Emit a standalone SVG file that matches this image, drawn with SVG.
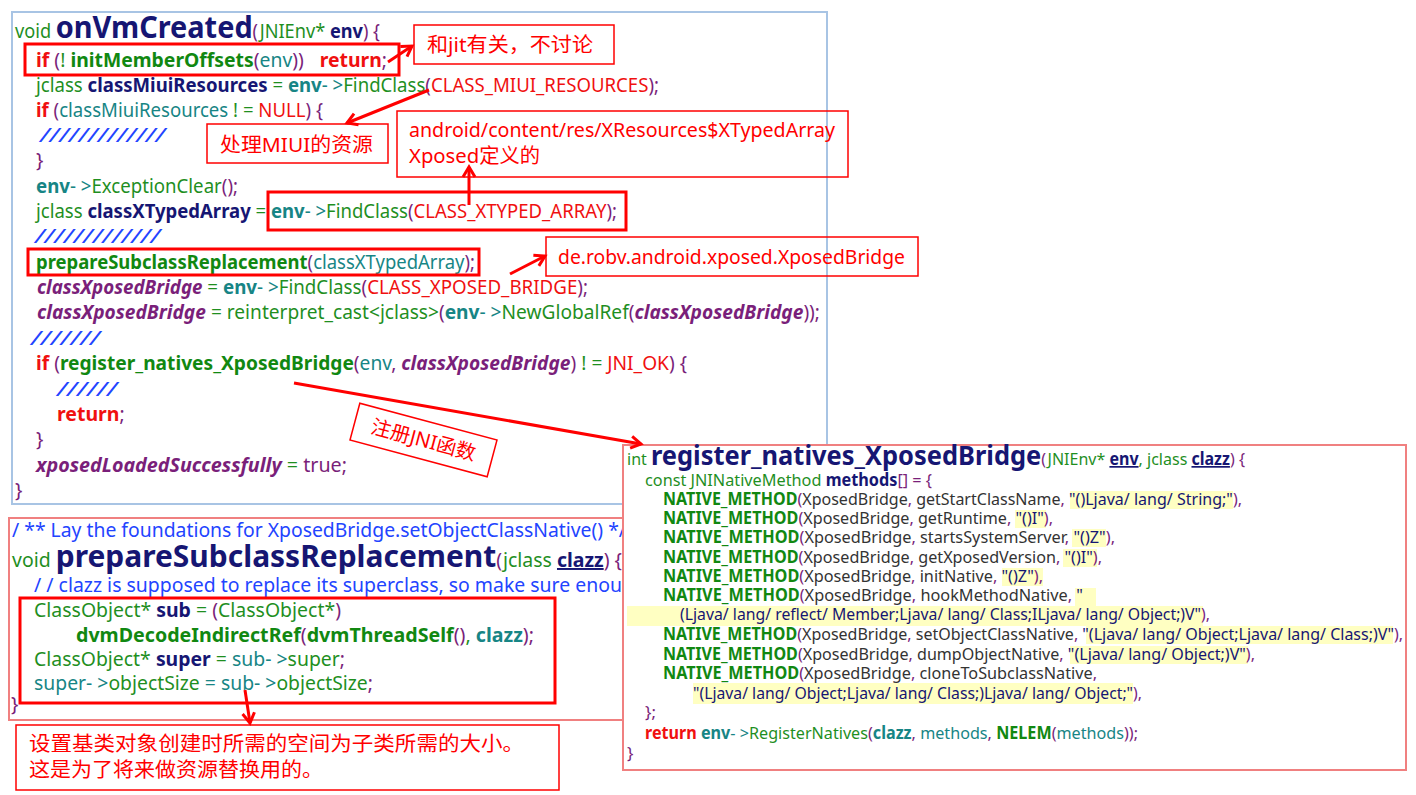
<svg xmlns="http://www.w3.org/2000/svg" width="1416" height="795" viewBox="0 0 1416 795">
<defs>
<style>
.c{font-family:"Noto Sans","Open Sans","DejaVu Sans",sans-serif;font-size:19.5px}
.s{font-family:"Noto Sans","Open Sans","DejaVu Sans",sans-serif;font-size:17px}
.g{fill:#1f8f1f}.gb{fill:#118811;font-weight:bold}
.n{fill:#161673}.nb{fill:#161673;font-weight:bold}
.t{fill:#178585}.tb{fill:#178585;font-weight:bold}
.p{fill:#7a1f7a}.pbi{fill:#7a1f7a;font-weight:bold;font-style:italic}
.r{fill:#f01010}.rb{fill:#f01010;font-weight:bold}
.b{fill:#2244ff;font-style:italic}.bl{fill:#2244ff}
.k{fill:#333333}
.u{text-decoration:underline}
.note{font-family:"Noto Sans","Noto Sans CJK SC",sans-serif;font-size:20px;fill:#ff0000}
.nbox{fill:none;stroke:#ff0000;stroke-width:1.5}
.hbox{fill:none;stroke:#ff0000;stroke-width:3}
.hl{fill:#ffffc2}
.conn{stroke:#ff0000;stroke-width:3;fill:none;marker-end:url(#arr)}
</style>
<marker id="arr" markerUnits="userSpaceOnUse" markerWidth="16" markerHeight="16" viewBox="0 0 16 16" refX="13" refY="8" orient="auto">
<path d="M3,2 L13,8 L3,14" fill="none" stroke="#ff0000" stroke-width="3"/>
</marker>
</defs>
<rect width="1416" height="795" fill="#ffffff"/>

<g id="code-onVmCreated">
<rect x="12" y="12" width="815" height="492" fill="#ffffff" stroke="#a8c4e4" stroke-width="2"/>
<text class="c" x="15" y="38" textLength="365" lengthAdjust="spacingAndGlyphs"><tspan class="g">void </tspan><tspan class="nb" font-size="31">onVmCreated</tspan><tspan class="p">(</tspan><tspan class="g">JNIEnv* </tspan><tspan class="nb">env</tspan><tspan class="p">) {</tspan></text>
<text class="c" x="36" y="67" textLength="351" lengthAdjust="spacingAndGlyphs"><tspan class="rb">if </tspan><tspan class="p">(</tspan><tspan class="g">! </tspan><tspan class="gb">initMemberOffsets</tspan><tspan class="p">(</tspan><tspan class="t">env</tspan><tspan class="p">))</tspan><tspan class="rb" dx="16">return</tspan><tspan class="p">;</tspan></text>
<text class="c" x="36" y="92" textLength="623" lengthAdjust="spacingAndGlyphs"><tspan class="g">jclass </tspan><tspan class="nb">classMiuiResources</tspan><tspan class="g"> = </tspan><tspan class="tb">env</tspan><tspan class="t">- &gt;</tspan><tspan class="g">FindClass</tspan><tspan class="p">(</tspan><tspan class="r">CLASS_MIUI_RESOURCES</tspan><tspan class="p">);</tspan></text>
<text class="c" x="36" y="117" textLength="287" lengthAdjust="spacingAndGlyphs"><tspan class="rb">if </tspan><tspan class="p">(</tspan><tspan class="t">classMiuiResources</tspan><tspan class="g"> ! = </tspan><tspan class="r">NULL</tspan><tspan class="p">) {</tspan></text>
<text class="c b" x="40" y="142" textLength="125" lengthAdjust="spacingAndGlyphs">/////////////</text>
<text class="c p" x="36" y="167">}</text>
<text class="c" x="36" y="193" textLength="202" lengthAdjust="spacingAndGlyphs"><tspan class="tb">env</tspan><tspan class="t">- &gt;</tspan><tspan class="g">ExceptionClear</tspan><tspan class="p">();</tspan></text>
<text class="c" x="36" y="218" textLength="581" lengthAdjust="spacingAndGlyphs"><tspan class="g">jclass </tspan><tspan class="nb">classXTypedArray</tspan><tspan class="g"> = </tspan><tspan class="tb">env</tspan><tspan class="t">- &gt;</tspan><tspan class="g">FindClass</tspan><tspan class="p">(</tspan><tspan class="r">CLASS_XTYPED_ARRAY</tspan><tspan class="p">);</tspan></text>
<text class="c b" x="35" y="243" textLength="125" lengthAdjust="spacingAndGlyphs">/////////////</text>
<text class="c" x="36" y="269" textLength="439" lengthAdjust="spacingAndGlyphs"><tspan class="gb">prepareSubclassReplacement</tspan><tspan class="p">(</tspan><tspan class="t">classXTypedArray</tspan><tspan class="p">);</tspan></text>
<text class="c" x="37" y="294" textLength="551" lengthAdjust="spacingAndGlyphs"><tspan class="pbi">classXposedBridge</tspan><tspan class="g"> = </tspan><tspan class="tb">env</tspan><tspan class="t">- &gt;</tspan><tspan class="g">FindClass</tspan><tspan class="p">(</tspan><tspan class="r">CLASS_XPOSED_BRIDGE</tspan><tspan class="p">);</tspan></text>
<text class="c" x="37" y="319" textLength="783" lengthAdjust="spacingAndGlyphs"><tspan class="pbi">classXposedBridge</tspan><tspan class="g"> = reinterpret_cast&lt;jclass&gt;</tspan><tspan class="p">(</tspan><tspan class="tb">env</tspan><tspan class="t">- &gt;</tspan><tspan class="g">NewGlobalRef</tspan><tspan class="p">(</tspan><tspan class="pbi">classXposedBridge</tspan><tspan class="p">));</tspan></text>
<text class="c b" x="31" y="345" textLength="69" lengthAdjust="spacingAndGlyphs">///////</text>
<text class="c" x="36" y="370" textLength="651" lengthAdjust="spacingAndGlyphs"><tspan class="rb">if </tspan><tspan class="p">(</tspan><tspan class="gb">register_natives_XposedBridge</tspan><tspan class="p">(</tspan><tspan class="t">env</tspan><tspan class="p">, </tspan><tspan class="pbi">classXposedBridge</tspan><tspan class="p">) </tspan><tspan class="g">! = </tspan><tspan class="r">JNI_OK</tspan><tspan class="p">) {</tspan></text>
<text class="c b" x="57" y="396" textLength="60" lengthAdjust="spacingAndGlyphs">//////</text>
<text class="c" x="57" y="421"><tspan class="rb">return</tspan><tspan class="p">;</tspan></text>
<text class="c p" x="36" y="446">}</text>
<text class="c" x="36" y="472" textLength="311" lengthAdjust="spacingAndGlyphs"><tspan class="pbi">xposedLoadedSuccessfully</tspan><tspan class="g"> = </tspan><tspan class="p">true;</tspan></text>
<text class="c p" x="15" y="497">}</text>
</g>

<g id="code-prepareSubclassReplacement">
<rect x="9" y="518" width="700" height="202" fill="#ffffff" stroke="#f08080" stroke-width="2"/>
<text class="c bl" x="12" y="537" textLength="614" lengthAdjust="spacingAndGlyphs">/ ** Lay the foundations for XposedBridge.setObjectClassNative() */</text>
<text class="c" x="12" y="567" textLength="610" lengthAdjust="spacingAndGlyphs"><tspan class="g">void </tspan><tspan class="nb" font-size="30">prepareSubclassReplacement</tspan><tspan class="p">(</tspan><tspan class="g">jclass </tspan><tspan class="nb u">clazz</tspan><tspan class="p">) {</tspan></text>
<text class="c bl" x="34" y="592" textLength="588" lengthAdjust="spacingAndGlyphs">/ /  clazz is supposed to replace its superclass, so make sure enou</text>
<text class="c" x="34" y="617" textLength="307" lengthAdjust="spacingAndGlyphs"><tspan class="g">ClassObject* </tspan><tspan class="nb">sub</tspan><tspan class="g"> = </tspan><tspan class="p">(</tspan><tspan class="g">ClassObject*</tspan><tspan class="p">)</tspan></text>
<text class="c" x="76" y="642" textLength="458" lengthAdjust="spacingAndGlyphs"><tspan class="gb">dvmDecodeIndirectRef</tspan><tspan class="p">(</tspan><tspan class="gb">dvmThreadSelf</tspan><tspan class="p">()</tspan><tspan class="g">, </tspan><tspan class="tb">clazz</tspan><tspan class="p">);</tspan></text>
<text class="c" x="34" y="666" textLength="311" lengthAdjust="spacingAndGlyphs"><tspan class="g">ClassObject* </tspan><tspan class="nb">super</tspan><tspan class="g"> = </tspan><tspan class="t">sub- &gt;</tspan><tspan class="g">super</tspan><tspan class="p">;</tspan></text>
<text class="c" x="34" y="690" textLength="339" lengthAdjust="spacingAndGlyphs"><tspan class="t">super- &gt;</tspan><tspan class="g">objectSize</tspan><tspan class="t"> = sub- &gt;</tspan><tspan class="g">objectSize</tspan><tspan class="p">;</tspan></text>
<text class="c p" x="11" y="711">}</text>
</g>

<g id="code-register_natives_XposedBridge">
<rect x="623" y="445" width="783" height="325" fill="#ffffff" stroke="#f08080" stroke-width="2"/>
<rect class="hl" x="1070" y="491" width="163" height="18"/>
<rect class="hl" x="1015" y="510" width="31" height="18"/>
<rect class="hl" x="1072" y="529" width="34" height="18"/>
<rect class="hl" x="1063" y="549" width="34" height="18"/>
<rect class="hl" x="1002" y="568" width="41" height="18"/>
<rect class="hl" x="1075" y="588" width="21" height="19"/>
<rect class="hl" x="627" y="606" width="576" height="20"/>
<rect class="hl" x="1086" y="626" width="307" height="18"/>
<rect class="hl" x="1070" y="646" width="178" height="18"/>
<rect class="hl" x="693" y="683" width="440" height="21"/>
<text class="s" x="627" y="465" textLength="618" lengthAdjust="spacingAndGlyphs"><tspan class="g">int </tspan><tspan class="nb" font-size="27">register_natives_XposedBridge</tspan><tspan class="p">(</tspan><tspan class="g">JNIEnv* </tspan><tspan class="nb u">env</tspan><tspan class="g">, jclass </tspan><tspan class="nb u">clazz</tspan><tspan class="p">) {</tspan></text>
<text class="s" x="645" y="486" textLength="287" lengthAdjust="spacingAndGlyphs"><tspan class="g">const JNINativeMethod </tspan><tspan class="nb">methods</tspan><tspan class="p">[] = {</tspan></text>
<text class="s" x="663" y="505" textLength="579" lengthAdjust="spacingAndGlyphs"><tspan class="gb">NATIVE_METHOD</tspan><tspan class="p">(</tspan><tspan class="k">XposedBridge</tspan><tspan class="p">, </tspan><tspan class="k">getStartClassName</tspan><tspan class="p">, </tspan><tspan class="n">"()Ljava/ lang/ String;"</tspan><tspan class="p">),</tspan></text>
<text class="s" x="663" y="524" textLength="390" lengthAdjust="spacingAndGlyphs"><tspan class="gb">NATIVE_METHOD</tspan><tspan class="p">(</tspan><tspan class="k">XposedBridge</tspan><tspan class="p">, </tspan><tspan class="k">getRuntime</tspan><tspan class="p">, </tspan><tspan class="n">"()I"</tspan><tspan class="p">),</tspan></text>
<text class="s" x="663" y="543" textLength="452" lengthAdjust="spacingAndGlyphs"><tspan class="gb">NATIVE_METHOD</tspan><tspan class="p">(</tspan><tspan class="k">XposedBridge</tspan><tspan class="p">, </tspan><tspan class="k">startsSystemServer</tspan><tspan class="p">, </tspan><tspan class="n">"()Z"</tspan><tspan class="p">),</tspan></text>
<text class="s" x="663" y="563" textLength="439" lengthAdjust="spacingAndGlyphs"><tspan class="gb">NATIVE_METHOD</tspan><tspan class="p">(</tspan><tspan class="k">XposedBridge</tspan><tspan class="p">, </tspan><tspan class="k">getXposedVersion</tspan><tspan class="p">, </tspan><tspan class="n">"()I"</tspan><tspan class="p">),</tspan></text>
<text class="s" x="663" y="582" textLength="380" lengthAdjust="spacingAndGlyphs"><tspan class="gb">NATIVE_METHOD</tspan><tspan class="p">(</tspan><tspan class="k">XposedBridge</tspan><tspan class="p">, </tspan><tspan class="k">initNative</tspan><tspan class="p">, </tspan><tspan class="n">"()Z"</tspan><tspan class="p">),</tspan></text>
<text class="s" x="663" y="601" textLength="420" lengthAdjust="spacingAndGlyphs"><tspan class="gb">NATIVE_METHOD</tspan><tspan class="p">(</tspan><tspan class="k">XposedBridge</tspan><tspan class="p">, </tspan><tspan class="k">hookMethodNative</tspan><tspan class="p">, </tspan><tspan class="n">"</tspan></text>
<text class="s" x="680" y="620" textLength="530" lengthAdjust="spacingAndGlyphs"><tspan class="n">(Ljava/ lang/ reflect/ Member;Ljava/ lang/ Class;ILjava/ lang/ Object;)V"</tspan><tspan class="p">),</tspan></text>
<text class="s" x="663" y="640" textLength="740" lengthAdjust="spacingAndGlyphs"><tspan class="gb">NATIVE_METHOD</tspan><tspan class="p">(</tspan><tspan class="k">XposedBridge</tspan><tspan class="p">, </tspan><tspan class="k">setObjectClassNative</tspan><tspan class="p">, </tspan><tspan class="n">"(Ljava/ lang/ Object;Ljava/ lang/ Class;)V"</tspan><tspan class="p">),</tspan></text>
<text class="s" x="663" y="660" textLength="592" lengthAdjust="spacingAndGlyphs"><tspan class="gb">NATIVE_METHOD</tspan><tspan class="p">(</tspan><tspan class="k">XposedBridge</tspan><tspan class="p">, </tspan><tspan class="k">dumpObjectNative</tspan><tspan class="p">, </tspan><tspan class="n">"(Ljava/ lang/ Object;)V"</tspan><tspan class="p">),</tspan></text>
<text class="s" x="663" y="679" textLength="434" lengthAdjust="spacingAndGlyphs"><tspan class="gb">NATIVE_METHOD</tspan><tspan class="p">(</tspan><tspan class="k">XposedBridge</tspan><tspan class="p">, </tspan><tspan class="k">cloneToSubclassNative</tspan><tspan class="p">,</tspan></text>
<text class="s" x="693" y="699" textLength="449" lengthAdjust="spacingAndGlyphs"><tspan class="n">"(Ljava/ lang/ Object;Ljava/ lang/ Class;)Ljava/ lang/ Object;"</tspan><tspan class="p">),</tspan></text>
<text class="s p" x="645" y="718">};</text>
<text class="s" x="645" y="739" textLength="493" lengthAdjust="spacingAndGlyphs"><tspan class="rb">return </tspan><tspan class="tb">env</tspan><tspan class="t">- &gt;</tspan><tspan class="g">RegisterNatives</tspan><tspan class="p">(</tspan><tspan class="tb">clazz</tspan><tspan class="p">, </tspan><tspan class="t">methods</tspan><tspan class="p">, </tspan><tspan class="gb">NELEM</tspan><tspan class="p">(</tspan><tspan class="t">methods</tspan><tspan class="p">));</tspan></text>
<text class="s p" x="627" y="759">}</text>
</g>

<g id="highlight-boxes">
<rect class="hbox" x="25" y="44" width="374" height="31"/>
<rect class="hbox" x="268" y="192" width="358" height="38"/>
<rect class="hbox" x="28" y="249" width="451" height="26"/>
<rect class="hbox" x="20" y="598" width="535" height="105"/>
</g>

<g id="note-jit">
<rect class="nbox" x="414" y="25" width="200" height="39" fill="#ffffff"/>
<text class="note" x="427" y="52" textLength="166" lengthAdjust="spacingAndGlyphs">和jit有关，不讨论</text>
</g>
<g id="note-miui">
<rect class="nbox" x="207" y="124" width="181" height="39"/>
<text class="note" x="220" y="152" textLength="153" lengthAdjust="spacingAndGlyphs">处理MIUI的资源</text>
</g>
<g id="note-xtypedarray">
<rect class="nbox" x="397" y="111" width="451" height="66"/>
<text class="note" x="409" y="137" textLength="426" lengthAdjust="spacingAndGlyphs">android/content/res/XResources$XTypedArray</text>
<text class="note" x="409" y="163" textLength="131" lengthAdjust="spacingAndGlyphs">Xposed定义的</text>
</g>
<g id="note-bridge">
<rect class="nbox" x="546" y="237" width="372" height="39" fill="#ffffff"/>
<text class="note" x="558" y="264" textLength="347" lengthAdjust="spacingAndGlyphs">de.robv.android.xposed.XposedBridge</text>
</g>
<g id="note-register" transform="translate(423.5,440) rotate(15)">
<rect class="nbox" x="-71" y="-19" width="142" height="38" fill="#ffffff"/>
<text class="note" x="0" y="7" text-anchor="middle">注册JNI函数</text>
</g>
<g id="note-objectsize">
<rect class="nbox" x="16" y="725" width="543" height="65" fill="#ffffff"/>
<text class="note" x="29" y="751" font-size="21" textLength="495" lengthAdjust="spacingAndGlyphs">设置基类对象创建时所需的空间为子类所需的大小。</text>
<text class="note" x="29" y="777" font-size="21" textLength="294" lengthAdjust="spacingAndGlyphs">这是为了将来做资源替换用的。</text>
</g>

<g id="connectors">
<line class="conn" x1="388" y1="62" x2="412" y2="46"/>
<line class="conn" x1="429" y1="90" x2="347" y2="123"/>
<line class="conn" x1="469" y1="205" x2="469" y2="167"/>
<line class="conn" x1="510" y1="274" x2="545" y2="256"/>
<line class="conn" x1="294" y1="383" x2="641" y2="444"/>
<line class="conn" x1="245" y1="690" x2="250" y2="723"/>
</g>
</svg>
